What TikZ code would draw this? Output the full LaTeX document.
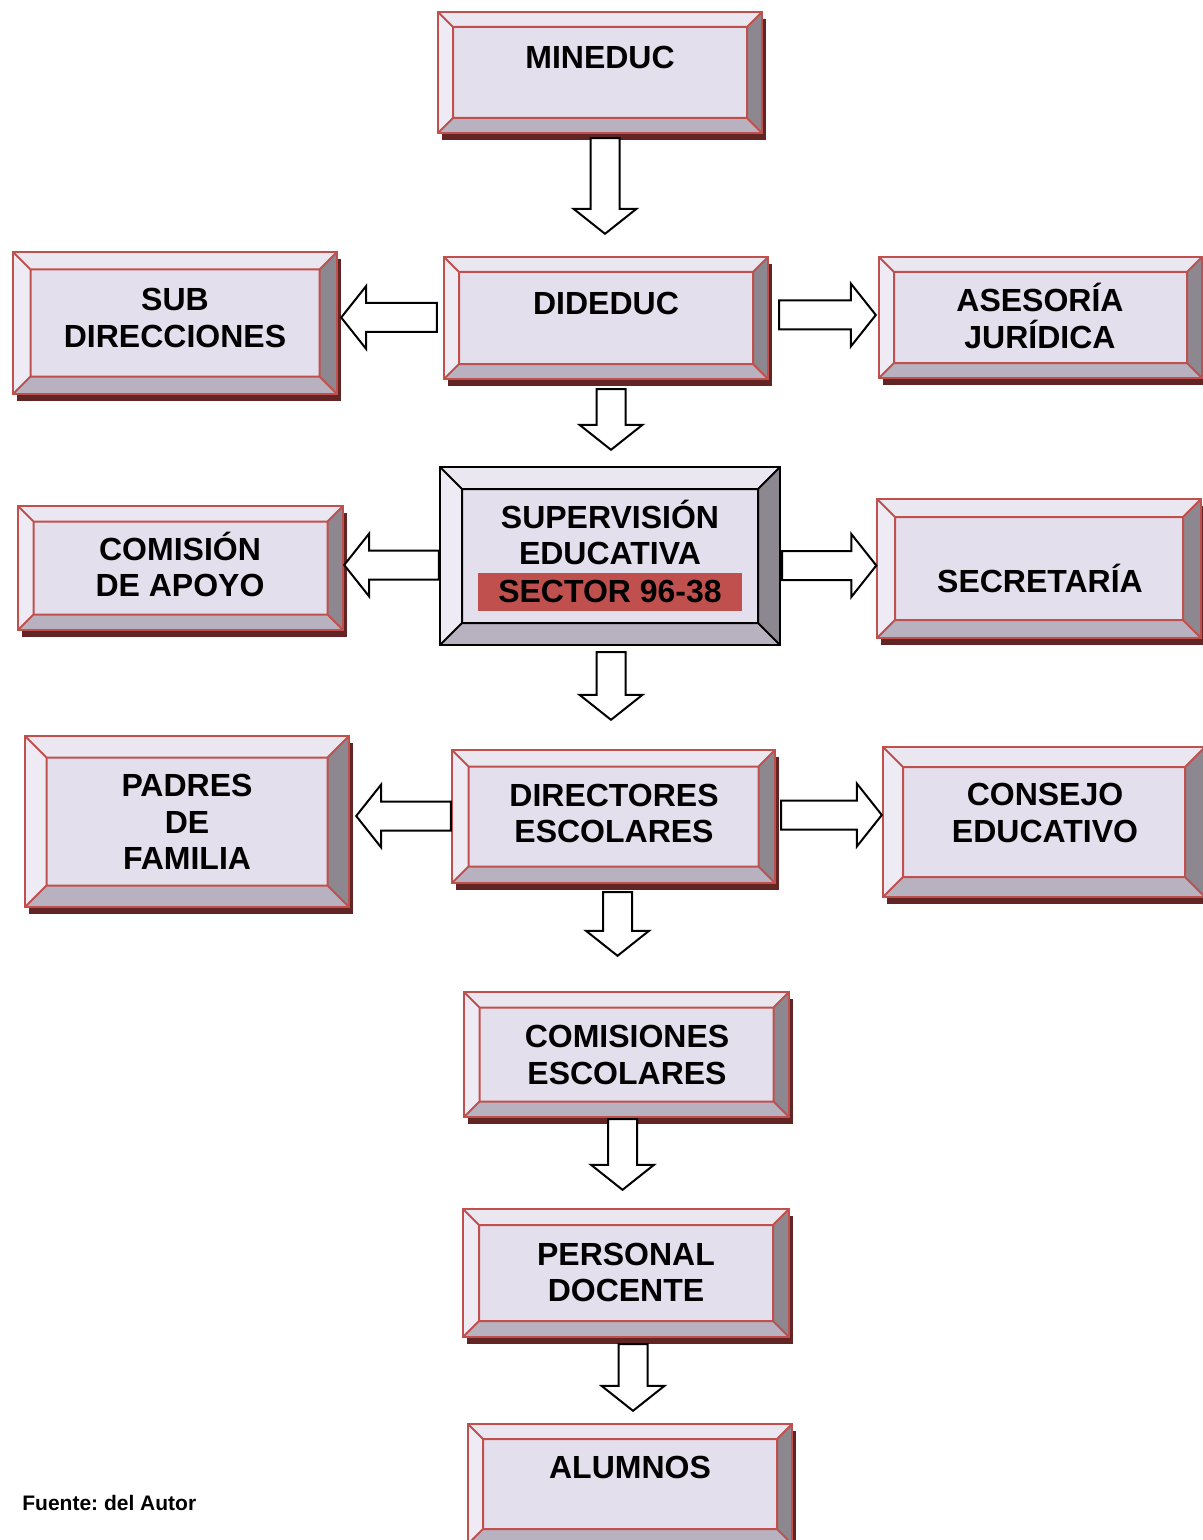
\documentclass[tikz,border=0pt]{standalone}
\usepackage{fontspec}
\setmainfont{Liberation Sans}
\usetikzlibrary{calc}
\usetikzlibrary{shadows}
\frenchspacing
\definecolor{boxred}{HTML}{C0504D}
\definecolor{shadowred}{HTML}{632523}
\definecolor{facecol}{HTML}{E4DFEC}
\definecolor{topcol}{HTML}{EBE7F1}
\definecolor{leftcol}{HTML}{EEEBF4}
\definecolor{bottomcol}{HTML}{B8B2C0}
\definecolor{rightcol}{HTML}{8D8890}
\def\bevelfaces#1#2{% Syntax: {inset in pt}{line colour}
 \path (path picture bounding box.north west) coordinate (o1)
  (path picture bounding box.north east) coordinate (o2)
  (path picture bounding box.south east) coordinate (o3)
  (path picture bounding box.south west) coordinate (o4)
  ([shift={(#1pt,-#1pt)}]o1) coordinate (i1)
  ([shift={(-#1pt,-#1pt)}]o2) coordinate (i2)
  ([shift={(-#1pt,#1pt)}]o3) coordinate (i3)
  ([shift={(#1pt,#1pt)}]o4) coordinate (i4);
 \fill[topcol] (o1) -- (o2) -- (i2) -- (i1) -- cycle;
 \fill[rightcol] (o2) -- (o3) -- (i3) -- (i2) -- cycle;
 \fill[bottomcol] (o3) -- (o4) -- (i4) -- (i3) -- cycle;
 \fill[leftcol] (o4) -- (o1) -- (i1) -- (i4) -- cycle;
 \draw[#2,line width=1pt] (i1) rectangle (i3) (o1) -- (i1) (o2) -- (i2) (o3) -- (i3) (o4) -- (i4);
}
\newcommand{\blockarrow}[2]{% Syntax: {start}{tip}
 \path (#1) coordinate (ar-s) (#2) coordinate (ar-e);
 \path ($(ar-e)!12.5pt!(ar-s)$) coordinate (ar-h);
 \draw[blockarr] ($(ar-s)!7.25pt!90:(ar-e)$) -- ($(ar-h)!7.25pt!90:(ar-e)$) -- ($(ar-h)!15.75pt!90:(ar-e)$) -- (ar-e)
  -- ($(ar-h)!15.75pt!-90:(ar-e)$) -- ($(ar-h)!7.25pt!-90:(ar-e)$) -- ($(ar-s)!7.25pt!-90:(ar-e)$) -- cycle;
}
\tikzset{
	bevelbox/.style={draw=boxred, line width=1.2pt, fill=facecol, inner sep=0pt,
		drop shadow={shadow xshift=2pt, shadow yshift=-3.5pt, fill=shadowred, opacity=1},
		path picture={\bevelfaces{#1}{boxred}}},
	superbox/.style={draw=black, line width=1.2pt, fill=facecol, inner sep=0pt,
		path picture={\bevelfaces{#1}{black}}},
	boxtext/.style={font=\fontsize{16}{18.25}\selectfont\bfseries, align=center, inner sep=0pt},
	blockarr/.style={draw=black, fill=white, line width=1pt, line join=miter},
}
\begin{document}
\begin{tikzpicture}[x=0.5pt,y=-0.5pt]
	\useasboundingbox (0,0) rectangle (1203,1540);
	% boxes
	\node[bevelbox=7.5, minimum width=162pt, minimum height=60.5pt] (mineduc) at (600,72.5) {};
	\node[bevelbox=7.5, minimum width=162pt, minimum height=61pt] (dideduc) at (606,318) {};
	\node[bevelbox=8.75, minimum width=162pt, minimum height=71pt] (subdir) at (175,323) {};
	\node[bevelbox=7.5, minimum width=161.5pt, minimum height=60.5pt] (asesoria) at (1040.5,317.5) {};
	\node[superbox=11, minimum width=170pt, minimum height=89pt] (superv) at (610,556) {};
	\node[bevelbox=7.75, minimum width=162.5pt, minimum height=62pt] (comision) at (180.5,568) {};
	\node[bevelbox=9, minimum width=162pt, minimum height=69.5pt] (secretaria) at (1039,568.5) {};
	\node[bevelbox=10.75, minimum width=162pt, minimum height=85.5pt] (padres) at (187,821.5) {};
	\node[bevelbox=8.25, minimum width=161.5pt, minimum height=66.5pt] (directores) at (613.5,816.5) {};
	\node[bevelbox=10, minimum width=161pt, minimum height=75pt] (consejo) at (1044,822) {};
	\node[bevelbox=7.75, minimum width=162.5pt, minimum height=62.5pt] (comisiones) at (626.5,1054.5) {};
	\node[bevelbox=8, minimum width=163pt, minimum height=64pt] (personal) at (626,1273) {};
	\node[bevelbox=7.5, minimum width=162pt, minimum height=60pt] (alumnos) at (630,1484) {};
	% texts
	\node[boxtext] (mineduc-t) at (600,57) {MINEDUC};
	\node[boxtext] (dideduc-t) at (606,303) {DIDEDUC};
	\node[boxtext] (subdir-t) at (175,318) {SUB\\DIRECCIONES};
	\node[boxtext] (asesoria-t) at (1040,316) {ASESORÍA\\JURÍDICA};
	\node[boxtext] (superv-t) at (610,532.5) {SUPERVISIÓN\\EDUCATIVA};
	\node[boxtext, fill=boxred, minimum width=132pt, minimum height=19pt] (sector) at (610,592) {SECTOR 96-38};
	\node[boxtext] (comision-t) at (180,564.5) {COMISIÓN\\DE APOYO};
	\node[boxtext] (secretaria-t) at (1040,578.5) {SECRETARÍA};
	\node[boxtext] (padres-t) at (187,822) {PADRES\\DE\\FAMILIA};
	\node[boxtext] (directores-t) at (614,813.5) {DIRECTORES\\ESCOLARES};
	\node[boxtext] (consejo-t) at (1045,813) {CONSEJO\\EDUCATIVO};
	\node[boxtext] (comisiones-t) at (627,1055) {COMISIONES\\ESCOLARES};
	\node[boxtext] (personal-t) at (626,1272.5) {PERSONAL\\DOCENTE};
	\node[boxtext] (alumnos-t) at (630,1467) {ALUMNOS};
	\node[font=\fontsize{10.5}{12}\selectfont\bfseries, inner sep=0pt, anchor=west] (fuente) at (22,1503) {Fuente: del Autor};
	% arrows
	\blockarrow{$(mineduc.south)+(5,4)$}{$(dideduc.north)+(-1,-22)$}
	\blockarrow{$(dideduc.west)+(-6,-0.5)$}{$(subdir.east)+(3,-5.5)$}
	\blockarrow{$(dideduc.east)+(10,-3)$}{$(asesoria.west)+(-2,-2.5)$}
	\blockarrow{$(dideduc.south)+(5,9)$}{$(superv.north)+(1,-16)$}
	\blockarrow{$(superv.west)+(0,9)$}{$(comision.east)+(0,-3)$}
	\blockarrow{$(superv.east)+(1,9.5)$}{$(secretaria.west)+(0.5,-3)$}
	\blockarrow{$(superv.south)+(1,6)$}{$(directores.north)+(-2.5,-29)$}
	\blockarrow{$(directores.west)+(0,-0.5)$}{$(padres.east)+(6,-5.5)$}
	\blockarrow{$(directores.east)+(5,-1.5)$}{$(consejo.west)+(0,-7)$}
	\blockarrow{$(directores.south)+(4,8)$}{$(comisiones.north)+(-9,-35)$}
	\blockarrow{$(comisiones.south)+(-4,1)$}{$(personal.north)+(-3.5,-18)$}
	\blockarrow{$(personal.south)+(7,6)$}{$(alumnos.north)+(3,-12)$}
\end{tikzpicture}
\end{document}
